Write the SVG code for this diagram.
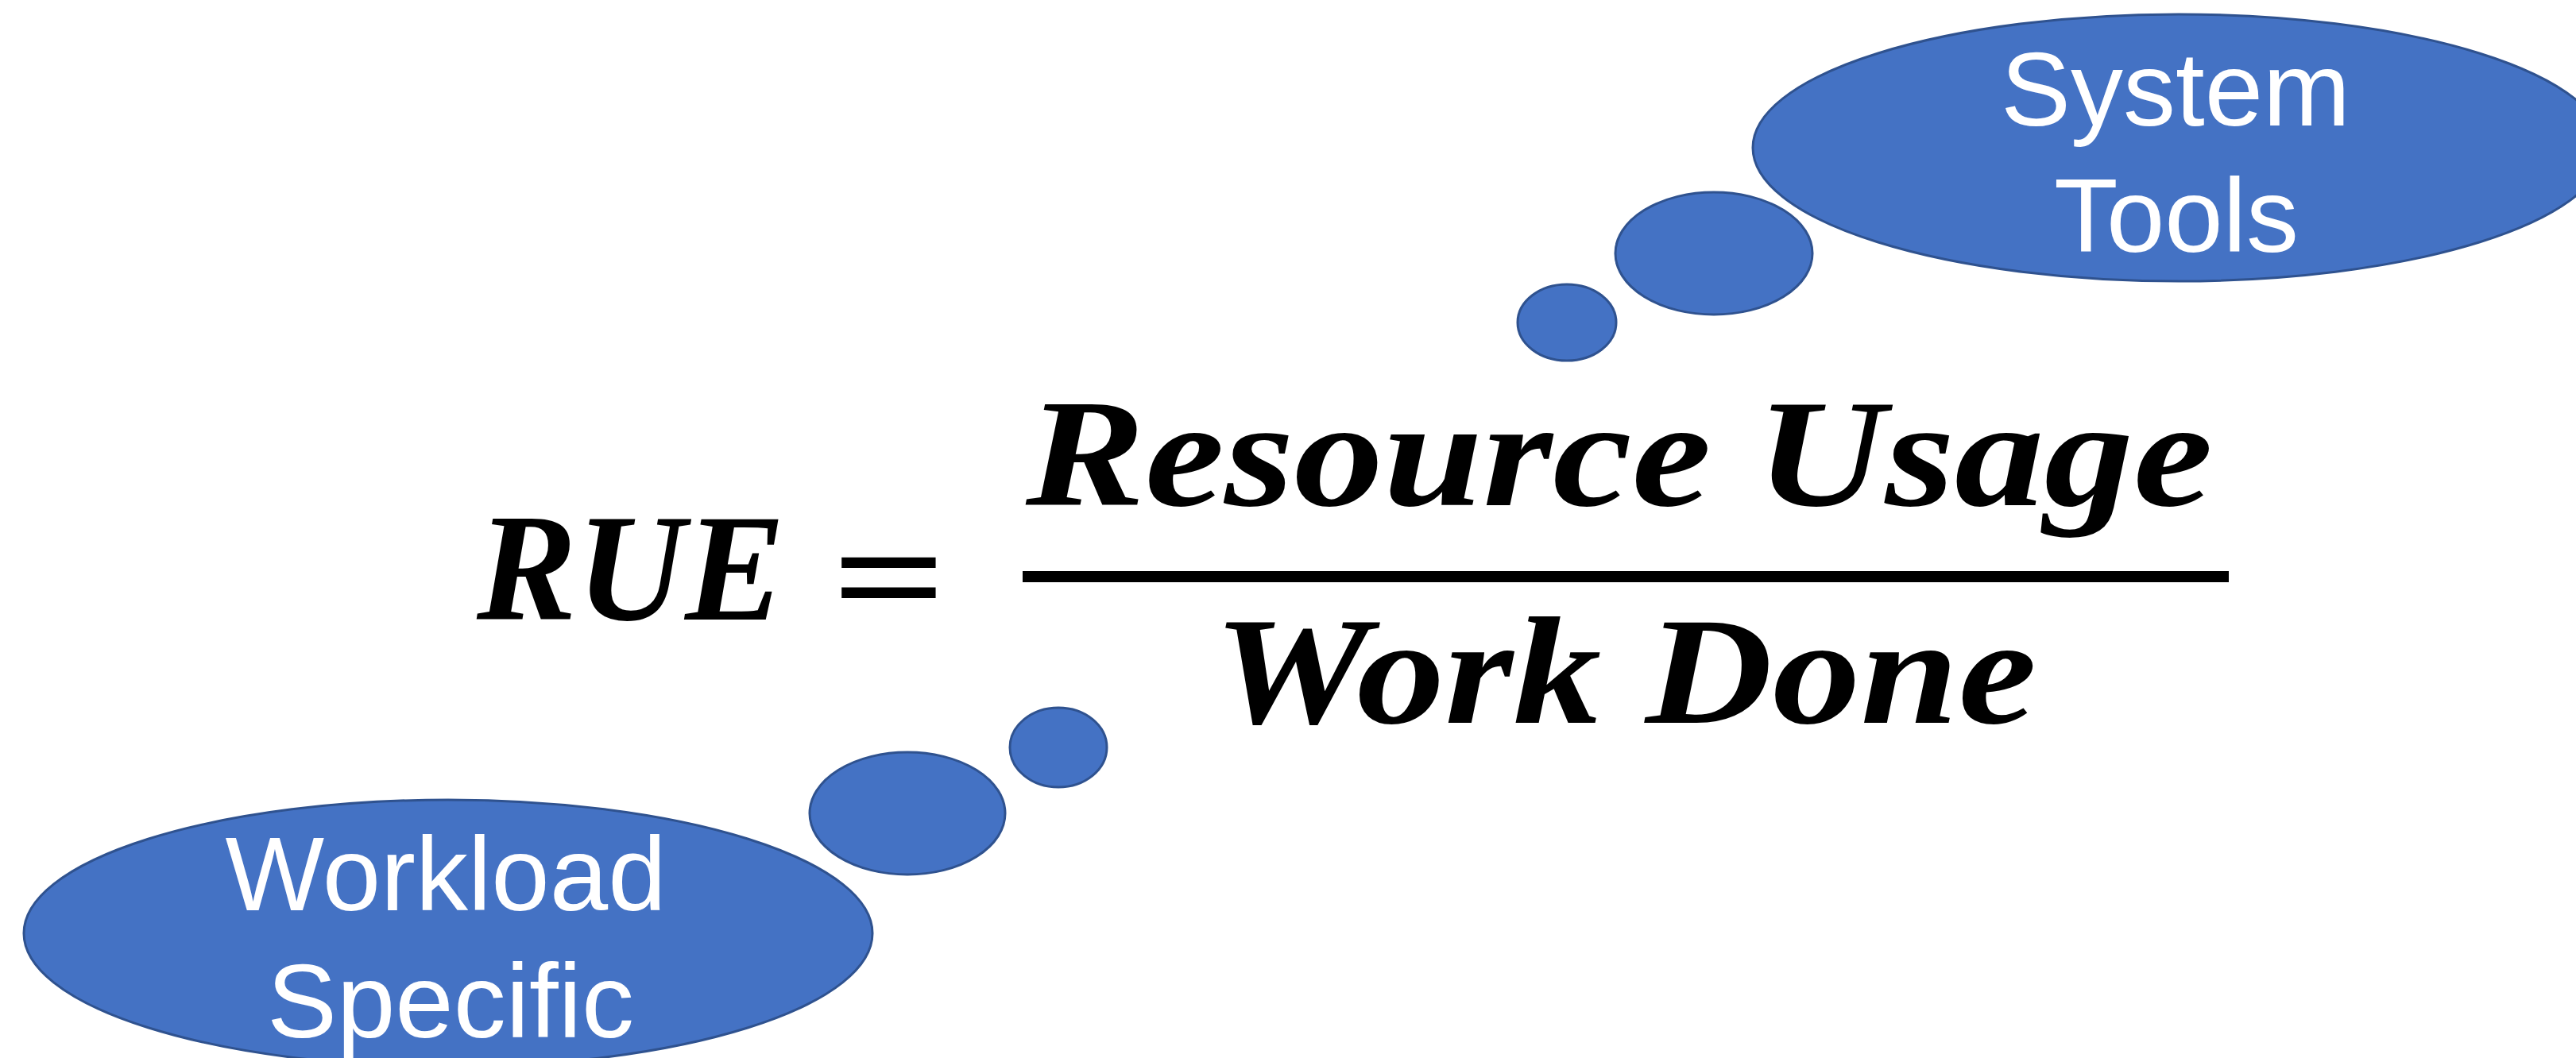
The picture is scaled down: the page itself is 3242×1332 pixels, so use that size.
<svg xmlns="http://www.w3.org/2000/svg" width="3242" height="1332" viewBox="0 0 3242 1332">
  <style>
    .bubble { fill: #4472C4; stroke: #2F528F; stroke-width: 3; }
    .label { fill: #FFFFFF; font-family: "Liberation Sans", Arial, sans-serif; font-size: 132px; text-anchor: middle; }
    .math { fill: #000000; font-family: "Liberation Serif", "Times New Roman", serif; font-weight: bold; font-style: italic; font-size: 193px; text-anchor: middle; }
    .op { fill: #000000; font-family: "Liberation Serif", "Times New Roman", serif; font-weight: bold; font-size: 190px; text-anchor: middle; }
  </style>

  <rect width="3242" height="1332" fill="#FFFFFF"/>

  <!-- thought bubble: system tools -->
  <g id="system-tools">
    <ellipse class="bubble" cx="2742" cy="186" rx="536" ry="168"/>
    <text class="label" x="2738" y="158">System</text>
    <text class="label" x="2739" y="317">Tools</text>
  </g>
  <g id="system-tools-trail">
    <ellipse class="bubble" cx="2157" cy="319" rx="124" ry="77"/>
    <ellipse class="bubble" cx="1972" cy="406" rx="62" ry="48"/>
  </g>

  <!-- thought bubble: workload specific -->
  <g id="workload-specific">
    <ellipse class="bubble" cx="564" cy="1175" rx="534" ry="168"/>
    <text class="label" x="561" y="1146">Workload</text>
    <text class="label" x="567" y="1306">Specific</text>
  </g>
  <g id="workload-specific-trail">
    <ellipse class="bubble" cx="1142" cy="1024" rx="123" ry="77"/>
    <ellipse class="bubble" cx="1332" cy="941" rx="61" ry="50"/>
  </g>

  <!-- the RUE formula -->
  <g id="formula">
    <text class="math" x="794" y="780" textLength="388" lengthAdjust="spacingAndGlyphs">RUE</text>
    <text class="op" transform="translate(1119,791) scale(1.34,1)" x="0" y="0">=</text>
    <text class="math" x="2038" y="636" textLength="1494" lengthAdjust="spacingAndGlyphs">Resource Usage</text>
    <rect x="1287" y="719" width="1518" height="14" fill="#000000"/>
    <text class="math" x="2045" y="910" textLength="1036" lengthAdjust="spacingAndGlyphs">Work Done</text>
  </g>

  <g id="connectors"/>
</svg>
